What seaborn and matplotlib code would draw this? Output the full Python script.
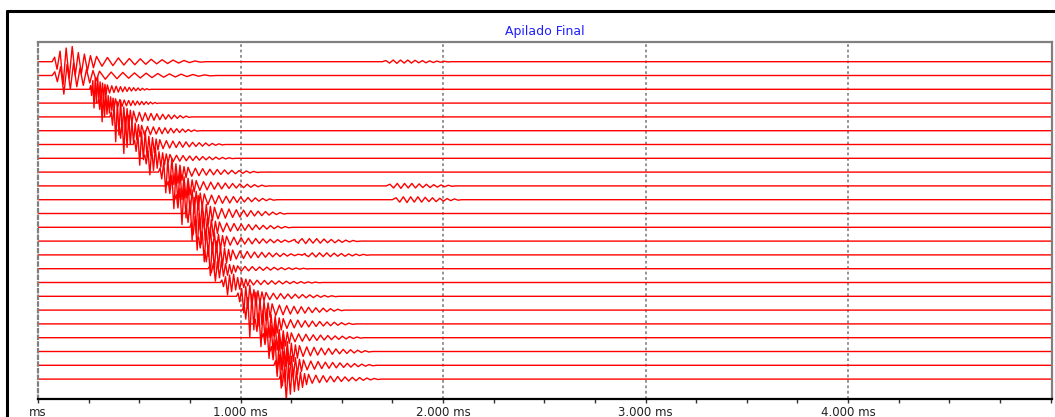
import numpy as np
import pandas as pd
import matplotlib
matplotlib.use("Agg")
import matplotlib.pyplot as plt
from matplotlib.lines import Line2D
from matplotlib.ticker import MultipleLocator, FixedLocator
import seaborn as sns

# ---------------- data ----------------
title = "Apilado Final"
trace_ids = list(range(24))
# first-break time of every trace (ms)
arrival_ms = [70, 70, 255, 295, 355, 395, 470, 520, 595, 635, 675, 725,
              750, 785, 815, 840, 900, 980, 1010, 1065, 1105, 1145, 1165, 1190]
# amplitude of every trace (in trace spacings)
amplitude = [1.1, 0.9, 0.9, 0.9, 1.2, 1.1, 1.0, 0.8, 1.0, 1.1, 1.2, 1.3,
             1.1, 1.0, 1.0, 0.6, 0.6, 0.8, 1.3, 1.1, 1.0, 1.2, 1.1, 1.0]
# duration scale of the coda of every trace
stretch = [1.5, 1.6, 0.6, 0.6, 0.8, 0.8, 0.9, 0.9, 1.0, 1.0, 1.0, 1.0,
           1.0, 1.0, 1.0, 1.0, 1.0, 1.0, 1.0, 1.0, 1.0, 1.0, 1.0, 1.0]
# shared wavelet, turning points (ms after first break, amplitude)
wavelet_t = [0, 8, 16, 26, 36, 46, 56, 66, 76, 86, 96, 106, 116, 126, 136,
             146, 164, 182, 200, 218, 236, 254, 272, 290, 308, 326, 344,
             362, 380, 398, 416, 434, 452, 470, 488, 506]
wavelet_a = [0, 0.3, -0.5, 0.7, -1.5, 0.9, -1.1, 1.0, -0.9, 0.6, -0.8, 0.5,
             -0.6, 0.4, -0.4, 0.35, -0.3, 0.28, -0.26, 0.25, -0.22, 0.21,
             -0.2, 0.19, -0.17, 0.16, -0.14, 0.13, -0.12, 0.11, -0.09,
             0.08, -0.06, 0.05, -0.03, 0]
# late small wave packets: trace, start (ms), amplitude
packet_trace = [0, 9, 10, 13, 14]
packet_start_ms = [1700, 1720, 1750, 1250, 1300]
packet_amp = [0.4, 0.6, 0.7, 0.6, 0.5]
packet_t = [0, 18, 36, 54, 72, 90, 108, 126, 144, 162, 180, 198, 216, 234,
            252, 270, 288, 306, 324, 342]
packet_a = [0, 0.2, -0.25, 0.3, -0.3, 0.3, -0.25, 0.3, -0.25, 0.25, -0.2,
            0.2, -0.2, 0.15, -0.15, 0.12, -0.1, 0.08, -0.05, 0]
x_ticks_ms = [0, 1000, 2000, 3000, 4000]
x_tick_labels = ["ms", "1.000 ms", "2.000 ms", "3.000 ms", "4.000 ms"]
t_end_ms = 5007

# ---------------- build long table ----------------
rows = []
for k in trace_ids:
    pts = [(0.0, 0.0)]
    for wt, wa in zip(wavelet_t, wavelet_a):
        pts.append((arrival_ms[k] + wt * stretch[k], amplitude[k] * wa))
    for pk, ps, pa in zip(packet_trace, packet_start_ms, packet_amp):
        if pk == k:
            for qt, qa in zip(packet_t, packet_a):
                pts.append((ps + qt, pa * qa))
    pts.append((t_end_ms, 0.0))
    pts.sort(key=lambda p: p[0])
    for i, (t, v) in enumerate(pts):
        rows.append({"trace": k, "order": i, "t": t, "y": -k + v})
df = pd.DataFrame(rows)

# ---------------- figure ----------------
sns.set_style("white")
plt.rcParams["font.family"] = ["DejaVu Sans"]

W, H = 1055, 417
fig = plt.figure(figsize=(W / 100, H / 100), dpi=100)
fig.patch.set_facecolor("white")
ax = fig.add_axes([38 / W, 1 - 399 / H, (1052 - 38) / W, (399 - 42) / H])

sns.lineplot(data=df, x="t", y="y", units="trace", estimator=None,
             sort=False, color="#ff0000", lw=1.0, ax=ax, legend=False)

ax.set_xlim(0, t_end_ms)
ax.set_ylim(-(399 - 61.7) / 13.8, (61.7 - 42) / 13.8)
ax.set_xlabel("")
ax.set_ylabel("")
ax.set_yticks([])

ax.xaxis.set_major_locator(FixedLocator(x_ticks_ms))
ax.set_xticklabels(x_tick_labels, fontsize=8.5, color="#222222")
ax.xaxis.set_minor_locator(MultipleLocator(250))
ax.tick_params(axis="x", which="both", direction="out", length=3,
               width=1, color="#333333", pad=2, bottom=True)
for xv in x_ticks_ms[1:]:
    ax.axvline(xv, color="#8a8a8a", ls=(0, (1.5, 1.5)), lw=1.3, zorder=0)

for s in ["top", "right"]:
    ax.spines[s].set_color("#808080")
    ax.spines[s].set_linewidth(1.6)
ax.spines["left"].set_color("#808080")
ax.spines["left"].set_linewidth(1.6)
ax.spines["left"].set_linestyle((0, (1.5, 1.5)))
ax.spines["bottom"].set_color("black")
ax.spines["bottom"].set_linewidth(1.6)

fig.text(545 / W, 1 - 31 / H, title, color="#2020ff", fontsize=9,
         ha="center", va="center")

# outer black frame (top and left edges)
fig.add_artist(Line2D([7 / W, 1.0], [1 - 11 / H, 1 - 11 / H],
                      transform=fig.transFigure, color="black", lw=2.2))
fig.add_artist(Line2D([7 / W, 7 / W], [0, 1 - 11 / H],
                      transform=fig.transFigure, color="black", lw=2.2))

fig.savefig("out.png", dpi=100, facecolor="white")
